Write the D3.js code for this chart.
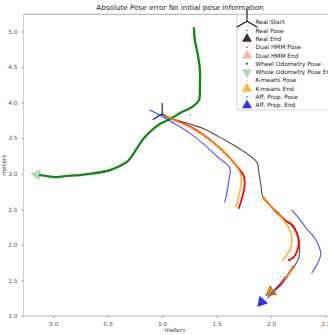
<!DOCTYPE html>
<html>
<head>
<meta charset="utf-8">
<script src="https://cdn.jsdelivr.net/npm/d3@7"></script>
<style>
  html, body { margin: 0; padding: 0; background: #fff; }
  svg { display: block; font-family: "DejaVu Sans", sans-serif; }
</style>
</head>
<body>
<svg id="chart" width="328" height="335"></svg>
<script>
// Axis ticks
const xTicks = [0.0, 0.5, 1.0, 1.5, 2.0, 2.5];
const yTicks = [1.0, 1.5, 2.0, 2.5, 3.0, 3.5, 4.0, 4.5, 5.0];

// Ground truth trajectory (meters)
const realStart = [1.0, 3.84];
const realPose = [
  [1.0, 3.84], [1.071, 3.781], [1.227, 3.711], [1.392, 3.626], [1.526, 3.514],
  [1.685, 3.374], [1.869, 3.163], [1.887, 3.022], [1.906, 2.840], [1.924, 2.671],
  [1.970, 2.587], [2.043, 2.461], [2.126, 2.348], [2.199, 2.278], [2.245, 2.138],
  [2.263, 1.969], [2.254, 1.815], [2.208, 1.688], [2.144, 1.548], [2.071, 1.407],
  [2.007, 1.337]
];

// Wheel odometry trajectory
const wheelPose = [
  [1.291, 5.045], [1.300, 4.876], [1.328, 4.666], [1.346, 4.455], [1.346, 4.216],
  [1.337, 4.034], [1.272, 3.935], [1.162, 3.851], [1.071, 3.767], [0.979, 3.697],
  [0.906, 3.612], [0.841, 3.514], [0.786, 3.402], [0.740, 3.289], [0.685, 3.177],
  [0.612, 3.107], [0.520, 3.051], [0.383, 3.008], [0.245, 2.980], [0.107, 2.966],
  [0.016, 2.952], [-0.058, 2.966], [-0.122, 2.980]
];

// Estimated trajectories, one list of points per continuous stretch
const dualHmmPose = [
  [[1.025, 3.809], [1.116, 3.753], [1.281, 3.640], [1.465, 3.444], [1.621, 3.219],
   [1.713, 3.051], [1.749, 2.966], [1.758, 2.868], [1.740, 2.699], [1.704, 2.517]],
  [[1.924, 2.671], [1.988, 2.559], [2.062, 2.447], [2.126, 2.348], [2.190, 2.278],
   [2.235, 2.166], [2.254, 2.025], [2.235, 1.899], [2.199, 1.815], [2.162, 1.787]],
  [[2.208, 1.702], [2.153, 1.576], [2.098, 1.463], [2.043, 1.379]]
];
const kmeansPose = [
  [[1.025, 3.809], [1.116, 3.753], [1.272, 3.640], [1.456, 3.458], [1.603, 3.247],
   [1.694, 3.079], [1.722, 2.980], [1.722, 2.840], [1.704, 2.699], [1.676, 2.531]],
  [[1.924, 2.671], [1.988, 2.559], [2.062, 2.447], [2.116, 2.348], [2.162, 2.236],
   [2.190, 2.096], [2.180, 1.955], [2.144, 1.857], [2.107, 1.787]],
  [[2.208, 1.702], [2.153, 1.576], [2.089, 1.463], [2.034, 1.379]]
];
const affPropPose = [
  [[0.887, 3.893], [0.979, 3.823], [1.089, 3.725], [1.254, 3.570], [1.392, 3.402],
   [1.511, 3.233], [1.621, 3.079], [1.612, 2.910], [1.594, 2.728], [1.575, 2.601]],
  [[1.254, 3.823]],
  [[2.190, 2.489], [2.254, 2.376], [2.328, 2.222], [2.400, 2.096], [2.437, 1.983],
   [2.456, 1.871], [2.428, 1.744], [2.374, 1.604]],
  [[2.126, 1.548], [2.080, 1.449], [2.025, 1.351], [1.970, 1.253]]
];

// Final poses
const realEnd = [1.996, 1.337];
const dualHmmEnd = [2.0, 1.34];
const wheelEnd = [-0.15, 2.99];
const kmeansEnd = [1.996, 1.337];
const affPropEnd = [1.913, 1.197];

const legendLabels = [
  "Real Start", "Real Pose", "Real End", "Dual HMM Pose", "Dual HMM End",
  "Wheel Odometry Pose", "Whole Odometry Pose End", "K-means Pose", "K-means End",
  "Aff. Prop. Pose", "Aff. Prop. End"
];

const svg = d3.select("#chart");
const padLeft = 23.5, padRight = 336.5, padTop = 14.3, padBottom = 316;

const x = d3.scaleLinear().domain([-0.273, 2.6]).range([padLeft, padRight]);
const y = d3.scaleLinear().domain([1.0, 5.24]).range([padBottom, padTop]);

// Title
svg.append("text")
  .attr("x", (padLeft + padRight) / 2).attr("y", 9.5)
  .attr("text-anchor", "middle")
  .attr("font-size", 7.2).attr("fill", "#222")
  .text("Absolute Pose error No initial pose information");

// Spines
svg.append("line").attr("x1", padLeft).attr("x2", padRight).attr("y1", padTop).attr("y2", padTop)
  .attr("stroke", "#a8a8a8").attr("stroke-width", 1);
svg.append("line").attr("x1", padLeft).attr("x2", padLeft).attr("y1", padTop).attr("y2", padBottom)
  .attr("stroke", "#cfcfcf").attr("stroke-width", 1);
svg.append("line").attr("x1", padLeft).attr("x2", padRight).attr("y1", padBottom).attr("y2", padBottom)
  .attr("stroke", "#d2d2d2").attr("stroke-width", 1.4);

// Axes
const xAxis = svg.append("g").attr("transform", `translate(0,${padBottom})`)
  .call(d3.axisBottom(x).tickValues(xTicks).tickFormat(d3.format(".1f")).tickSize(2).tickPadding(4));
const yAxis = svg.append("g").attr("transform", `translate(${padLeft},0)`)
  .call(d3.axisLeft(y).tickValues(yTicks).tickFormat(d3.format(".1f")).tickSize(2).tickPadding(4));
[xAxis, yAxis].forEach(g => {
  g.select(".domain").remove();
  g.selectAll(".tick line").attr("stroke", "#999");
  g.selectAll(".tick text").attr("fill", "#555").attr("font-size", 5.8)
    .attr("font-family", "DejaVu Sans, sans-serif");
});

// Axis labels
svg.append("text").attr("x", (padLeft + padRight) / 2 - 5).attr("y", 332)
  .attr("text-anchor", "middle").attr("font-size", 6).attr("fill", "#444").text("meters");
svg.append("text").attr("transform", `translate(6,${(padTop + padBottom) / 2}) rotate(-90)`)
  .attr("text-anchor", "middle").attr("font-size", 6).attr("fill", "#444").text("meters");

const line = d3.line().x(d => x(d[0])).y(d => y(d[1])).curve(d3.curveCatmullRom.alpha(0.5));
const plot = svg.append("g");

function triPath(r) {
  // three prongs: up, lower-left, lower-right
  const a = [-90, 30, 150].map(t => t * Math.PI / 180);
  return a.map(t => `M0,0L${(r * Math.cos(t)).toFixed(2)},${(r * Math.sin(t)).toFixed(2)}`).join("");
}
function triangle(r) {
  // triangle pointing along +x
  return d3.range(3).map(i => {
    const t = i * 2 * Math.PI / 3;
    return [r * Math.cos(t), r * Math.sin(t)];
  });
}
function headingDeg(pts) {
  const a = pts[pts.length - 2], b = pts[pts.length - 1];
  return Math.atan2(y(b[1]) - y(a[1]), x(b[0]) - x(a[0])) * 180 / Math.PI;
}
function endMarker(pos, heading, fill, r) {
  plot.append("path")
    .attr("d", "M" + triangle(r).join("L") + "Z")
    .attr("transform", `translate(${x(pos[0])},${y(pos[1])}) rotate(${heading})`)
    .attr("fill", fill);
}
function drawSegments(segs, color, width, opacity) {
  segs.forEach(seg => {
    if (seg.length === 1) {
      plot.append("circle").attr("cx", x(seg[0][0])).attr("cy", y(seg[0][1]))
        .attr("r", width * 0.6).attr("fill", color).attr("opacity", opacity);
    } else {
      plot.append("path").attr("d", line(seg)).attr("fill", "none")
        .attr("stroke", color).attr("stroke-width", width).attr("opacity", opacity)
        .attr("stroke-linecap", "round").attr("stroke-linejoin", "round");
    }
  });
}

// Real start
plot.append("path").attr("d", triPath(11))
  .attr("transform", `translate(${x(realStart[0])},${y(realStart[1])})`)
  .attr("stroke", "#111").attr("stroke-width", 1.1).attr("fill", "none");
// Real path
drawSegments([realPose], "#333", 1.1, 0.85);
endMarker(realEnd, headingDeg(realPose), "rgba(0,0,0,0.8)", 6.5);
// Dual HMM
drawSegments(dualHmmPose, "#ff0000", 1.9, 0.95);
endMarker(dualHmmEnd, headingDeg(dualHmmPose[2]), "rgba(255,0,0,0.3)", 6.5);
// Wheel odometry
drawSegments([wheelPose], "#0f8a0f", 2.3, 1);
endMarker(wheelEnd, headingDeg(wheelPose), "rgba(0,128,0,0.3)", 6.5);
// K-means
drawSegments(kmeansPose, "#ffa500", 1.5, 0.85);
endMarker(kmeansEnd, headingDeg(kmeansPose[2]), "rgba(255,165,0,0.8)", 6.5);
// Affinity propagation
drawSegments(affPropPose, "#2020ff", 1.2, 0.75);
endMarker(affPropEnd, headingDeg(affPropPose[3]), "rgba(0,0,255,0.8)", 6.5);

// Legend
const lg = svg.append("g");
lg.append("rect").attr("x", 237).attr("y", 14.5).attr("width", 110).attr("height", 95.5)
  .attr("rx", 2).attr("fill", "rgba(255,255,255,0.85)").attr("stroke", "#cccccc").attr("stroke-width", 0.8);

const legendMarks = [
  { kind: "tri", color: "#111" },
  { kind: "dot", color: "#000", r: 0.7 },
  { kind: "up", color: "rgba(0,0,0,0.8)" },
  { kind: "dot", color: "#ff0000", r: 0.8 },
  { kind: "up", color: "rgba(255,0,0,0.3)" },
  { kind: "dot", color: "#008000", r: 1.1 },
  { kind: "down", color: "rgba(0,128,0,0.3)" },
  { kind: "dot", color: "#ffa500", r: 0.7 },
  { kind: "up", color: "rgba(255,165,0,0.8)" },
  { kind: "dot", color: "#0000ff", r: 0.7 },
  { kind: "up", color: "rgba(0,0,255,0.8)" }
];
legendLabels.forEach((label, i) => {
  const cy = 22.3 + i * 8.3;
  const m = legendMarks[i];
  const g = lg.append("g").attr("transform", `translate(247,${cy})`);
  if (m.kind === "tri") {
    g.append("path").attr("d", triPath(12)).attr("transform", "translate(0,-1)")
      .attr("stroke", m.color).attr("stroke-width", 1.1).attr("fill", "none");
  } else if (m.kind === "dot") {
    g.append("circle").attr("r", m.r).attr("fill", m.color);
  } else {
    const rot = m.kind === "up" ? -90 : 90;
    g.append("path").attr("d", "M" + triangle(5.8).join("L") + "Z")
      .attr("transform", `rotate(${rot})`).attr("fill", m.color);
  }
  lg.append("text").attr("x", 255.5).attr("y", cy).attr("dy", "0.35em")
    .attr("font-size", 5.9).attr("fill", "#222").text(label);
});
</script>
</body>
</html>
